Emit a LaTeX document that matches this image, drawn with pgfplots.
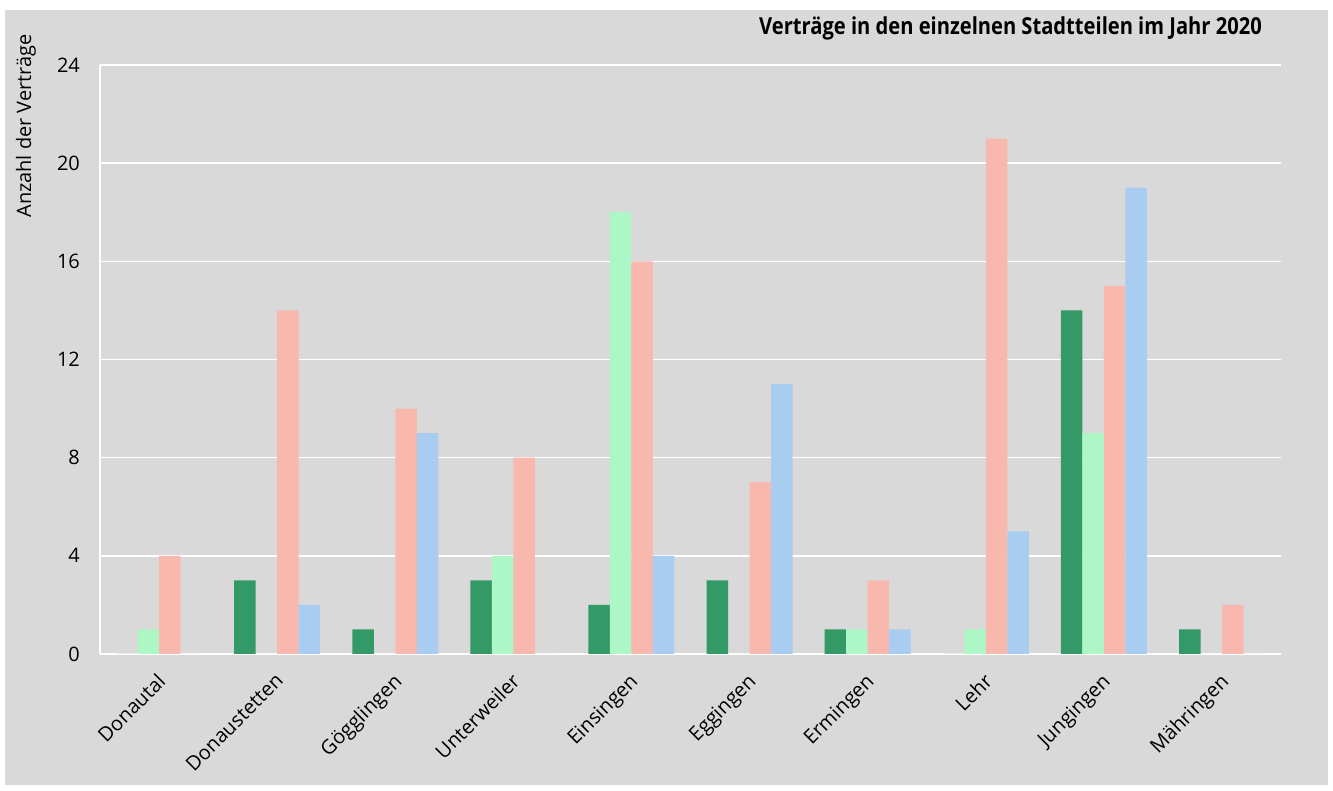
\documentclass[border=0pt]{standalone}
\usepackage{fontspec}
\setmainfont{Open Sans}
\newfontfamily\titlefont[FakeStretch=0.86]{Open Sans}
\usepackage{pgfplots}
\usepackage{pgfplotstable}
\pgfplotsset{compat=1.18}

\definecolor{panel}{HTML}{D9D9D9}
\definecolor{sA}{HTML}{339966}
\definecolor{sB}{HTML}{ADF7C6}
\definecolor{sC}{HTML}{F8B8AE}
\definecolor{sD}{HTML}{A9CDF0}

% Verträge je Stadtteil, vier Reihen
\pgfplotstableread{
x  a  b  c  d
0  0  1  4  0
1  3  0  14 2
2  1  0  10 9
3  3  4  8  0
4  2  18 16 4
5  3  0  7  11
6  1  1  3  1
7  0  1  21 5
8  14 9  15 19
9  1  0  2  0
}\vertraege

\begin{document}
\begin{tikzpicture}[x=1bp,y=1bp]
\useasboundingbox (0,0) rectangle (1333,790);
\fill[white] (0,0) rectangle (1333,790);
\fill[panel] (5,5) rectangle (1328,780);
\begin{axis}[
  at={(100bp,136bp)}, anchor=south west,
  scale only axis, width=1181bp, height=589bp,
  xmin=-0.5, xmax=9.5, ymin=0, ymax=24,
  ytick={0,4,...,24},
  xtick={0,...,9},
  xticklabels={Donautal,Donaustetten,Gögglingen,Unterweiler,Einsingen,Eggingen,Ermingen,Lehr,Jungingen,Mähringen},
  ybar=0pt, bar width=21.5bp,
  axis x line*=bottom, axis y line*=left,
  axis line style={white, line width=2bp},
  ymajorgrids, grid style={white, line width=1.6bp},
  major tick length=0pt,
  /pgf/number format/assume math mode=true,
  yticklabel style={font=\fontsize{20}{22}\selectfont, inner sep=0pt, xshift=-20bp},
  xticklabel style={font=\fontsize{20}{22}\selectfont, inner sep=0pt, xshift=-3bp, yshift=-18bp, rotate=45, anchor=north east},
  every axis plot/.append style={draw=none},
]
\addplot[fill=sA] table[x=x,y=a]{\vertraege};
\addplot[fill=sB] table[x=x,y=b]{\vertraege};
\addplot[fill=sC] table[x=x,y=c]{\vertraege};
\addplot[fill=sD] table[x=x,y=d]{\vertraege};
\end{axis}
\node[anchor=base east, inner sep=0pt] at (1262,755) {\titlefont\bfseries\fontsize{23.5}{26}\selectfont Verträge in den einzelnen Stadtteilen im Jahr 2020};
\node[rotate=90, anchor=base, inner sep=0pt] at (31,664) {\fontsize{20}{22}\selectfont Anzahl der Verträge};
\end{tikzpicture}
\end{document}
